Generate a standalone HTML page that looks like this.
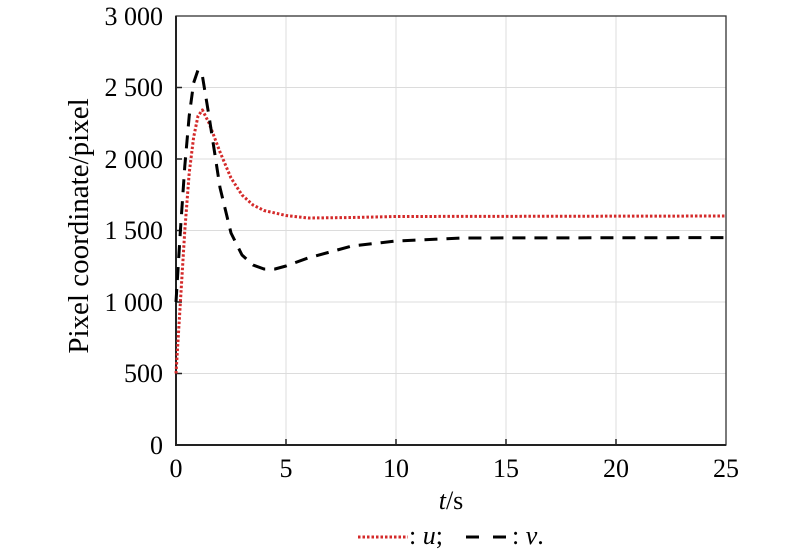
<!DOCTYPE html>
<html><head><style>body{margin:0;background:#fff}</style></head><body>
<svg width="800" height="554" xmlns="http://www.w3.org/2000/svg" font-family="Liberation Serif, serif" font-size="26">
<g stroke="#dcdcdc" stroke-width="1">
<line x1="286" y1="16" x2="286" y2="445"/><line x1="396" y1="16" x2="396" y2="445"/><line x1="506" y1="16" x2="506" y2="445"/><line x1="616" y1="16" x2="616" y2="445"/>
<line x1="176" y1="87.5" x2="726" y2="87.5"/><line x1="176" y1="159" x2="726" y2="159"/><line x1="176" y1="230.5" x2="726" y2="230.5"/><line x1="176" y1="302" x2="726" y2="302"/><line x1="176" y1="373.5" x2="726" y2="373.5"/>
</g>
<rect x="176" y="16" width="550" height="429" fill="none" stroke="#333" stroke-width="1.3"/>
<line x1="176" y1="16" x2="176" y2="446" stroke="#222" stroke-width="2"/>
<line x1="175" y1="445" x2="726" y2="445" stroke="#222" stroke-width="2"/>
<g stroke="#222" stroke-width="1.5">
<line x1="176" y1="87.5" x2="182" y2="87.5"/><line x1="176" y1="159" x2="182" y2="159"/><line x1="176" y1="230.5" x2="182" y2="230.5"/><line x1="176" y1="302" x2="182" y2="302"/><line x1="176" y1="373.5" x2="182" y2="373.5"/>
<line x1="286" y1="445" x2="286" y2="439"/><line x1="396" y1="445" x2="396" y2="439"/><line x1="506" y1="445" x2="506" y2="439"/><line x1="616" y1="445" x2="616" y2="439"/>
</g>
<polyline fill="none" stroke="#d42a2a" stroke-width="3" stroke-linejoin="round" stroke-dasharray="2.5 2" points="176,373.5 180.4,302 184.8,230.5 189.2,173 193.6,137.5 198,116 202.4,110 209,123 220,152 231,178 242,195 253,205 264,210.5 286,215.5 308,218 352,217.5 396,216.5 726,216"/>
<polyline fill="none" stroke="#000" stroke-width="3" stroke-linejoin="round" stroke-dasharray="13 9" points="176,302 180.4,230.5 184.8,166 189.2,116 193.6,83 198,70 202.4,76 209,116 220,187.6 231,233 242,255 253,265 264,269 275,269 286,266 308,258 352,246 396,241 462,238 726,237.6"/>
<g text-anchor="end">
<text x="163" y="25">3 000</text><text x="163" y="96">2 500</text><text x="163" y="168">2 000</text><text x="163" y="239">1 500</text><text x="163" y="311">1 000</text><text x="163" y="382">500</text><text x="163" y="454">0</text>
</g>
<g text-anchor="middle">
<text x="176" y="477">0</text><text x="286" y="477">5</text><text x="396" y="477">10</text><text x="506" y="477">15</text><text x="616" y="477">20</text><text x="726" y="477">25</text>
<text x="451" y="509"><tspan font-style="italic">t</tspan>/s</text>
<text transform="translate(88,226) rotate(-90)" font-size="29">Pixel coordinate/pixel</text>
</g>
<line x1="358" y1="537" x2="408" y2="537" stroke="#d42a2a" stroke-width="3" stroke-dasharray="2.5 2"/>
<text x="409" y="544">: <tspan font-style="italic">u</tspan>;</text>
<line x1="466" y1="537" x2="512" y2="537" stroke="#000" stroke-width="3" stroke-dasharray="13 14"/>
<text x="512" y="544">: <tspan font-style="italic">v</tspan>.</text>
</svg>
</body></html>
